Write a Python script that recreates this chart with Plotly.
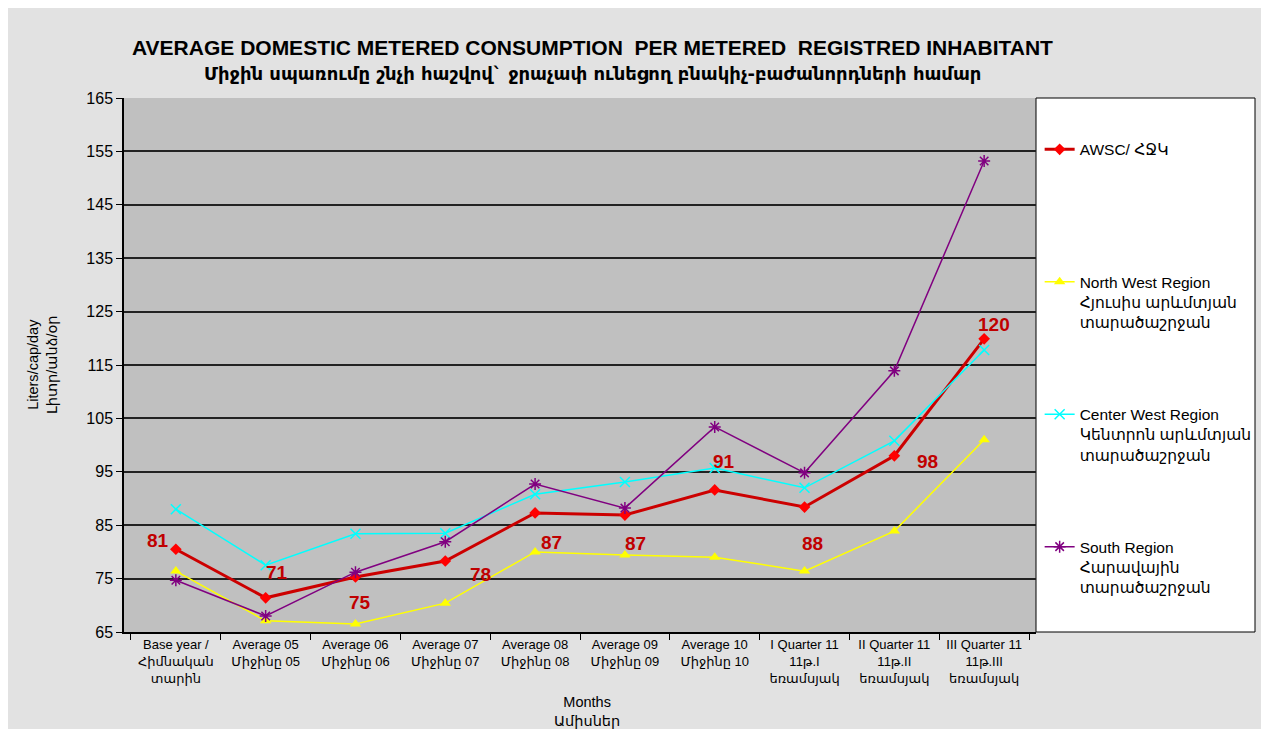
import plotly.graph_objects as go

# Categories (x axis)
categories = [
    'Base year /<br>Հիմնական<br>տարին',
    'Average 05<br>Միջինը 05',
    'Average 06<br>Միջինը 06',
    'Average 07<br>Միջինը 07',
    'Average 08<br>Միջինը 08',
    'Average 09<br>Միջինը 09',
    'Average 10<br>Միջինը 10',
    'I Quarter 11<br>11թ.I<br>եռամսյակ',
    'II Quarter 11<br>11թ.II<br>եռամսյակ',
    'III Quarter 11<br>11թ.III<br>եռամսյակ',
]

# Series values (liters/cap/day)
awsc = [80.5, 71.4, 75.3, 78.3, 87.3, 86.9, 91.6, 88.4, 98.0, 119.9]
awsc_labels = ['81', '71', '75', '78', '87', '87', '91', '88', '98', '120']
north_west = [76.4, 67.1, 66.5, 70.4, 80.0, 79.4, 79.0, 76.4, 83.9, 101.0]
center_west = [88.0, 77.5, 83.4, 83.5, 90.8, 93.1, 95.7, 92.0, 100.8, 117.8]
south = [74.7, 68.0, 76.2, 81.9, 92.7, 88.2, 103.4, 94.8, 113.9, 153.2]

# pixel offsets of the AWSC data labels (xshift, yshift)
label_offsets = [(-18, 9), (11, 25), (5, -25), (35, -14), (16, -30),
                 (11, -28), (9, 28), (8, -36), (33, -6), (10, 14)]

font_main = 'Liberation Sans, Arial, DejaVu Sans, sans-serif'
pad = '<br> <br> '

fig = go.Figure()

fig.add_trace(go.Scatter(
    x=categories, y=awsc, mode='lines+markers',
    name='AWSC/ ՀՋԿ' + pad,
    line=dict(color='#cc0000', width=3),
    marker=dict(symbol='diamond', size=9, color='#ff0000'),
    legendgroup='a',
))
fig.add_trace(go.Scatter(
    x=categories, y=north_west, mode='lines+markers',
    name='North West Region<br>Հյուսիս արևմտյան<br>տարածաշրջան',
    line=dict(color='#ffff00', width=1.5),
    marker=dict(symbol='triangle-up', size=10, color='#ffff00'),
    legendgroup='b',
))
fig.add_trace(go.Scatter(
    x=categories, y=center_west, mode='lines+markers',
    name='Center West Region<br>Կենտրոն արևմտյան<br>տարածաշրջան',
    line=dict(color='#00ffff', width=1.5),
    marker=dict(symbol='x-thin-open', size=10, color='#00ffff',
                line=dict(width=1.5, color='#00ffff')),
    legendgroup='c',
))
fig.add_trace(go.Scatter(
    x=categories, y=south, mode='lines+markers',
    name='South Region<br>Հարավային<br>տարածաշրջան',
    line=dict(color='#800080', width=1.5),
    marker=dict(symbol='asterisk-open', size=10, color='#800080',
                line=dict(width=1.5, color='#800080')),
    legendgroup='d',
))

annotations = []
for xc, yv, lab, (dx, dy) in zip(categories, awsc, awsc_labels, label_offsets):
    annotations.append(dict(
        x=xc, y=yv, text='<b>' + lab + '</b>', showarrow=False,
        xshift=dx, yshift=dy,
        font=dict(size=19, color='#c00000', family=font_main),
    ))

# title (two lines)
annotations.append(dict(
    x=0.514, y=1.0955, xref='paper', yref='paper', xanchor='center', yanchor='middle',
    text='<b>AVERAGE DOMESTIC METERED CONSUMPTION  PER METERED  REGISTRED INHABITANT</b>',
    showarrow=False, font=dict(size=21, color='black', family=font_main),
))
annotations.append(dict(
    x=0.514, y=1.0468, xref='paper', yref='paper', xanchor='center', yanchor='middle',
    text='<b>Միջին սպառումը շնչի հաշվով` ջրաչափ ունեցող բնակիչ-բաժանորդների համար</b>',
    showarrow=False, font=dict(size=18, color='black', family='DejaVu Sans'),
))
# axis titles
annotations.append(dict(
    x=-0.09, y=0.5, xref='paper', yref='paper', xanchor='center', yanchor='middle',
    textangle=-90, text='Liters/cap/day<br>Լիտր/անձ/օր', showarrow=False,
    font=dict(size=14.5, color='black', family=font_main),
))
annotations.append(dict(
    x=0.508, y=-0.112, xref='paper', yref='paper', xanchor='center', yanchor='top',
    text='Months<br>Ամիսներ', showarrow=False,
    font=dict(size=14.5, color='black', family=font_main),
))

# the legend box
shapes = [dict(type='rect', xref='paper', yref='paper',
               x0=1.0, x1=1 + 219 / 912, y0=0, y1=1,
               fillcolor='white', line=dict(color='black', width=1), layer='below')]

fig.update_layout(
    width=1261, height=721,
    margin=dict(l=116, r=233, t=90, b=97),
    paper_bgcolor='#e2e2e2',
    plot_bgcolor='#c0c0c0',
    font=dict(family=font_main, size=13, color='black'),
    showlegend=True,
    legend=dict(x=1.004, y=0.935, xanchor='left', yanchor='top',
                bgcolor='rgba(0,0,0,0)', borderwidth=0,
                font=dict(size=15.5, family=font_main),
                tracegroupgap=69, valign='top', traceorder='grouped'),
    annotations=annotations,
    shapes=shapes,
)

fig.update_xaxes(
    showline=True, linecolor='black', linewidth=1.5, mirror=False,
    ticks='outside', ticklen=6, tickcolor='black', tickson='boundaries',
    showgrid=False, tickfont=dict(size=13), tickangle=0,
)
fig.update_yaxes(
    range=[65, 165], dtick=10, tick0=65,
    showline=True, linecolor='black', linewidth=1.5,
    ticks='outside', ticklen=6, tickcolor='black',
    showgrid=True, gridcolor='#222222', gridwidth=1.5,
    tickfont=dict(size=16), zeroline=False,
)

fig.write_html('out.html')
